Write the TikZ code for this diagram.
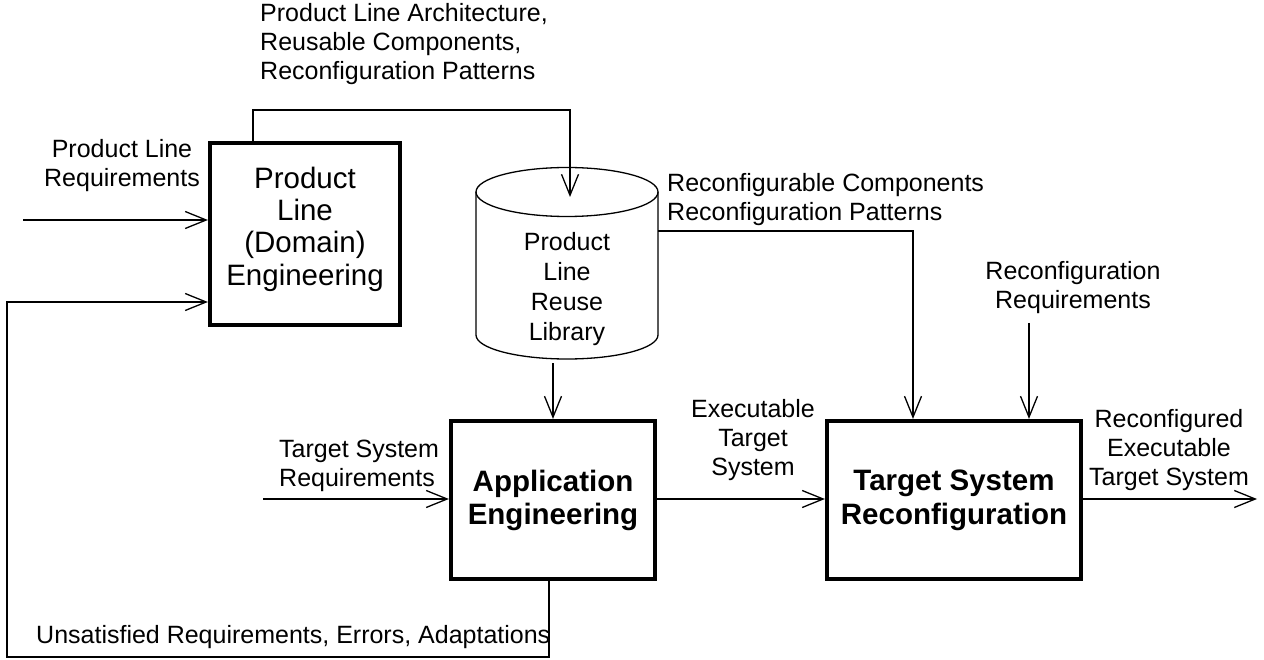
\documentclass[tikz,border=0pt]{standalone}
\usepackage{fontspec}
\setmainfont{Liberation Sans}
\usetikzlibrary{arrows.meta}
\begin{document}
\begin{tikzpicture}[x=1pt,y=-1pt,
  thin line/.style={line width=1.3pt},
  arr/.style={thin line,-{Straight Barb[length=21pt,width=17pt]}},
  procbox/.style={draw,line width=4.2pt,rectangle,inner sep=0pt,align=center,
     font=\fontsize{29.5}{33}\selectfont},
  lbl/.style={inner sep=0pt,font=\fontsize{25}{29}\selectfont}]
\useasboundingbox (0,0) rectangle (1264,660);

% boxes
\node[procbox,minimum width=190pt,minimum height=182pt] (pl) at (305,234) {};
\node[inner sep=0pt,align=center,font=\fontsize{29.5}{32.3}\selectfont] (pltxt) at (305,229) {Product\\Line\\(Domain)\\Engineering};
\node[procbox,minimum width=204pt,minimum height=158pt,font=\fontsize{29.5}{33}\selectfont\bfseries] (app) at (553,500) {Application\\Engineering};
\node[procbox,minimum width=254pt,minimum height=158pt,font=\fontsize{29.5}{34}\selectfont\bfseries] (tsr) at (954,500) {Target System\\Reconfiguration};

% cylinder
\draw[thin line,fill=white] (476,192) -- (476,335) arc[start angle=180,end angle=0,x radius=91,y radius=24] -- (658,192);
\draw[thin line] (567,192) ellipse[x radius=91,y radius=24.5];
\node[inner sep=0pt,minimum width=182pt,minimum height=192pt] (lib) at (567,263) {};
\node[lbl,align=center,font=\fontsize{25}{30}\selectfont] (libtxt) at (567,289) {Product\\Line\\Reuse\\Library};

% labels
\node[lbl,align=left,anchor=west] (lplout) at (260,44) {Product Line Architecture,\\Reusable Components,\\Reconfiguration Patterns};
\node[lbl,align=center] (lplreq) at (122,166) {Product Line\\Requirements};
\node[lbl,align=left,anchor=west] (lrc) at (667,200) {Reconfigurable Components\\Reconfiguration Patterns};
\node[lbl,align=center] (lrr) at (1073,288) {Reconfiguration\\Requirements};
\node[lbl,align=left,anchor=west] (ltsr) at (279,466) {Target System\\Requirements};
\node[lbl,align=center] (lexe) at (753,440) {Executable\\Target\\System};
\node[lbl,align=center] (lrex) at (1169,450) {Reconfigured\\Executable\\Target System};
\node[lbl,anchor=west] (lfb) at (36,637) {Unsatisfied Requirements, Errors, Adaptations};

% coordinates
\coordinate (plin) at (23,220);
\coordinate (plup) at (253,110);
\coordinate (cyltop) at (570,197);
\coordinate (cylright) at (658,231);
\coordinate (cylbot) at (553,363);
\coordinate (tsrin) at (263,499);
\coordinate (rrin) at (1029,323);
\coordinate (outend) at (1257,499);
\coordinate (fbx) at (549,657);
\coordinate (fbl) at (7,302);

% connectors
\draw[arr] (plin) -- (pl.west |- plin);
\draw[arr] (pl.north -| plup) -- (plup) -| (cyltop);
\draw[arr] (cylright) -| (tsr.north -| 913,0);
\draw[arr] (cylbot) -- (app.north -| cylbot);
\draw[arr] (tsrin) -- (app.west |- tsrin);
\draw[arr] (app.east |- 0,499) -- (tsr.west |- 0,499);
\draw[arr] (tsr.east |- 0,499) -- (outend);
\draw[arr] (rrin) -- (tsr.north -| rrin);
\draw[arr] (app.south -| fbx) -- (fbx) -| (fbl) -- (pl.west |- fbl);
\end{tikzpicture}
\end{document}
